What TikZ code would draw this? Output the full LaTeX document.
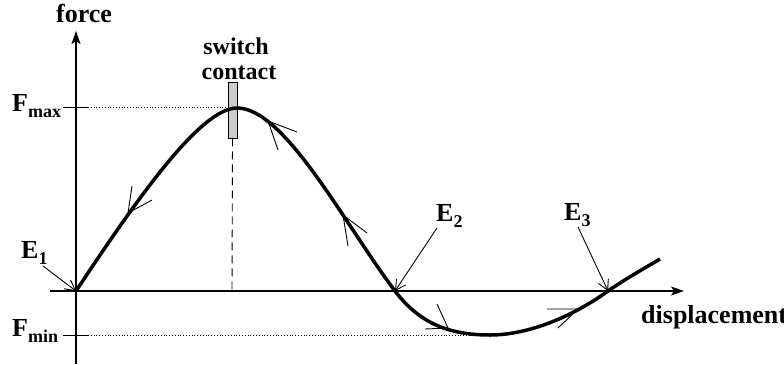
\documentclass[tikz,border=0pt]{standalone}
\usepackage{fontspec}
\setmainfont{Liberation Serif}
\usetikzlibrary{arrows.meta}
\newcommand\lsub[1]{\raisebox{-6.5pt}{\fontsize{18}{18}\selectfont #1}}
\begin{document}
\begin{tikzpicture}[x=1pt,y=-1pt,
  lbl/.style={font=\fontsize{26}{28}\selectfont\bfseries, inner sep=0pt},
  swlbl/.style={font=\fontsize{24}{26}\selectfont\bfseries, inner sep=0pt},
  axis/.style={line width=1.1pt, -{Stealth[length=13pt,width=9pt,inset=3pt]}},
  curve/.style={line width=3.5pt, line join=round},
  barb/.style={line width=0.9pt},
  ptr/.style={line width=0.9pt, -{Straight Barb[length=10pt,width=11pt]}},
  tickline/.style={line width=1pt},
  guide/.style={line width=0.8pt, dotted},
  contactbox/.style={draw, fill=gray!40, minimum width=9pt, minimum height=56pt, inner sep=0pt, line width=0.8pt},
  ]
\useasboundingbox (0,0) rectangle (784,364);
% labels
\node[lbl, anchor=base] (force) at (84,23) {force};
\node[swlbl, anchor=base] (sw) at (236,54) {switch};
\node[swlbl, anchor=base] (ct) at (239,79) {contact};
\node[lbl, anchor=base west] (fmax) at (12,111) {F\lsub{max}};
\node[lbl, anchor=base west] (fmin) at (12,336) {F\lsub{min}};
\node[lbl, anchor=base west] (e1) at (21,258) {E\lsub{1}};
\node[lbl, anchor=base west] (e2) at (436,221) {E\lsub{2}};
\node[lbl, anchor=base west] (e3) at (564,220) {E\lsub{3}};
\node[lbl, anchor=base west] (disp) at (641,323) {displacement};
% coordinates
\coordinate (O) at (76,291);
\coordinate (ytop) at (76,31);
\coordinate (ybot) at (76,364);
\coordinate (xl) at (50,291);
\coordinate (xr) at (684,291);
\coordinate (P) at (237,108);
\coordinate (E2p) at (395,291);
\coordinate (M) at (490,335);
\coordinate (E3p) at (608,291);
\coordinate (Z) at (660,259);
\coordinate (e1s) at (43,266);
\coordinate (e2s) at (437,228);
\coordinate (e3s) at (578,227);
\coordinate (tmaxl) at (63,107);
\coordinate (tmaxr) at (88,107);
\coordinate (gmax) at (232,107);
\coordinate (tminl) at (63,335);
\coordinate (tminr) at (88,335);
\coordinate (gmin) at (485,335);
\coordinate (dashend) at (232,291);
% axes
\draw[axis] (ybot) -- (ytop);
\draw[axis] (xl) -- (xr);
% ticks and guides
\draw[tickline] (tmaxl) -- (tmaxr);
\draw[tickline] (tminl) -- (tminr);
\draw[guide] (tmaxr) -- (gmax);
\draw[guide] (tminr) -- (gmin);
% switch contact
\node[contactbox] (sc) at (232.5,110) {};
\draw[line width=0.9pt, dash pattern=on 8pt off 5pt] (sc.south) -- (dashend);
% curve
\draw[curve] (O) .. controls (135,202) and (200,108) .. (P)
  .. controls (285,108) and (345,225) .. (E2p)
  .. controls (420,324) and (450,335) .. (M)
  .. controls (530,335) and (575,315) .. (E3p)
  .. controls (630,276) and (645,268) .. (Z);
% direction barbs
\draw[barb] (152,200) -- (128,213) -- (132,186);
\draw[barb] (297,132) -- (268,121) -- (278,150);
\draw[barb] (367,233) -- (343,215) -- (348,246);
\draw[barb] (425,329) -- (448,328) -- (437,304);
\draw[barb] (547,309) -- (578,309) -- (558,328);
% equilibrium pointers
\draw[ptr] (e1s) -- (O);
\draw[ptr] (e2s) -- (E2p);
\draw[ptr] (e3s) -- (E3p);
\end{tikzpicture}
\end{document}
